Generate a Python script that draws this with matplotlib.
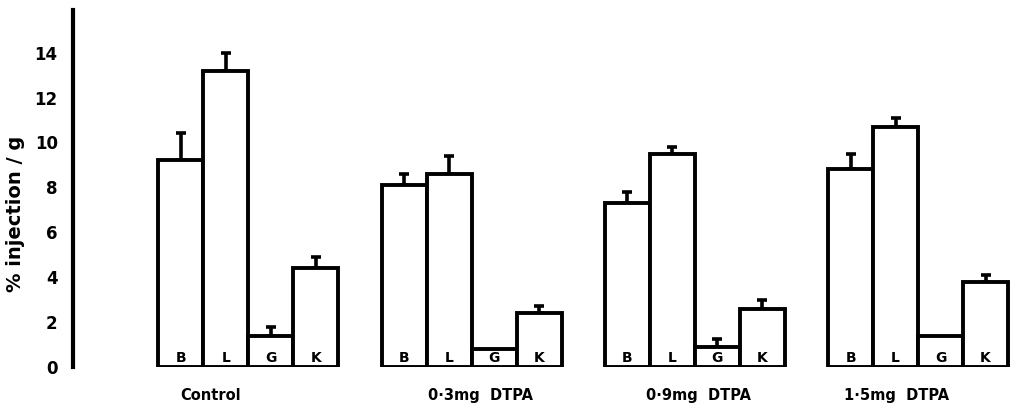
import matplotlib.pyplot as plt
import numpy as np

# organ uptake, % injection / g, for each treatment group
groups = ["Control", "0·3mg  DTPA", "0·9mg  DTPA", "1·5mg  DTPA"]
organs = ["B", "L", "G", "K"]

means = {
    "Control":     [9.2, 13.2, 1.4, 4.4],
    "0·3mg  DTPA": [8.1, 8.6, 0.8, 2.4],
    "0·9mg  DTPA": [7.3, 9.5, 0.9, 2.6],
    "1·5mg  DTPA": [8.8, 10.7, 1.4, 3.8],
}
errors = {
    "Control":     [1.2, 0.8, 0.4, 0.5],
    "0·3mg  DTPA": [0.5, 0.8, 0.0, 0.3],
    "0·9mg  DTPA": [0.5, 0.3, 0.35, 0.4],
    "1·5mg  DTPA": [0.7, 0.4, 0.0, 0.3],
}

yticks = [0, 2, 4, 6, 8, 10, 12, 14]

# layout (bar units: one bar = 1)
first_bar = 1.9
group_step = 4.96
label_x = [3.05, 9.05, 13.9, 18.3]

fig = plt.figure(figsize=(10.18, 4.17), dpi=100)
ax = fig.add_axes([0.0717, 0.12, 0.9283, 0.856])

lw = 2.8
for gi, g in enumerate(groups):
    x0 = first_bar + gi * group_step
    xs = x0 + np.arange(len(organs)) + 0.5
    ax.bar(xs, means[g], width=1.0, color="white", edgecolor="black",
           linewidth=lw, zorder=2)
    err = np.array(errors[g])
    show = err > 0
    ax.errorbar(xs[show], np.array(means[g])[show],
                yerr=[np.zeros(show.sum()), err[show]],
                fmt="none", ecolor="black", elinewidth=2.6,
                capsize=3.5, capthick=2.6, zorder=1)
    for x, o in zip(xs, organs):
        ax.text(x, 0.1, o, ha="center", va="bottom", fontsize=10,
                fontweight="bold", zorder=3)
    ax.text(label_x[gi], -1.25, g, ha="center", va="center",
            fontsize=10.5, fontweight="bold")

ax.set_xlim(0, 21.0)
ax.set_ylim(0, 15.9)
ax.set_yticks(yticks)
ax.set_yticklabels([str(t) for t in yticks], fontweight="bold", fontsize=12)
ax.tick_params(axis="y", length=0, pad=11)
ax.set_xticks([])

for s in ["top", "right", "bottom"]:
    ax.spines[s].set_visible(False)
ax.spines["left"].set_linewidth(3)

ax.set_ylabel("% injection / g", fontsize=14, fontweight="bold")
ax.yaxis.set_label_coords(-0.051, 0.43)

fig.savefig("out.png", dpi=100)
